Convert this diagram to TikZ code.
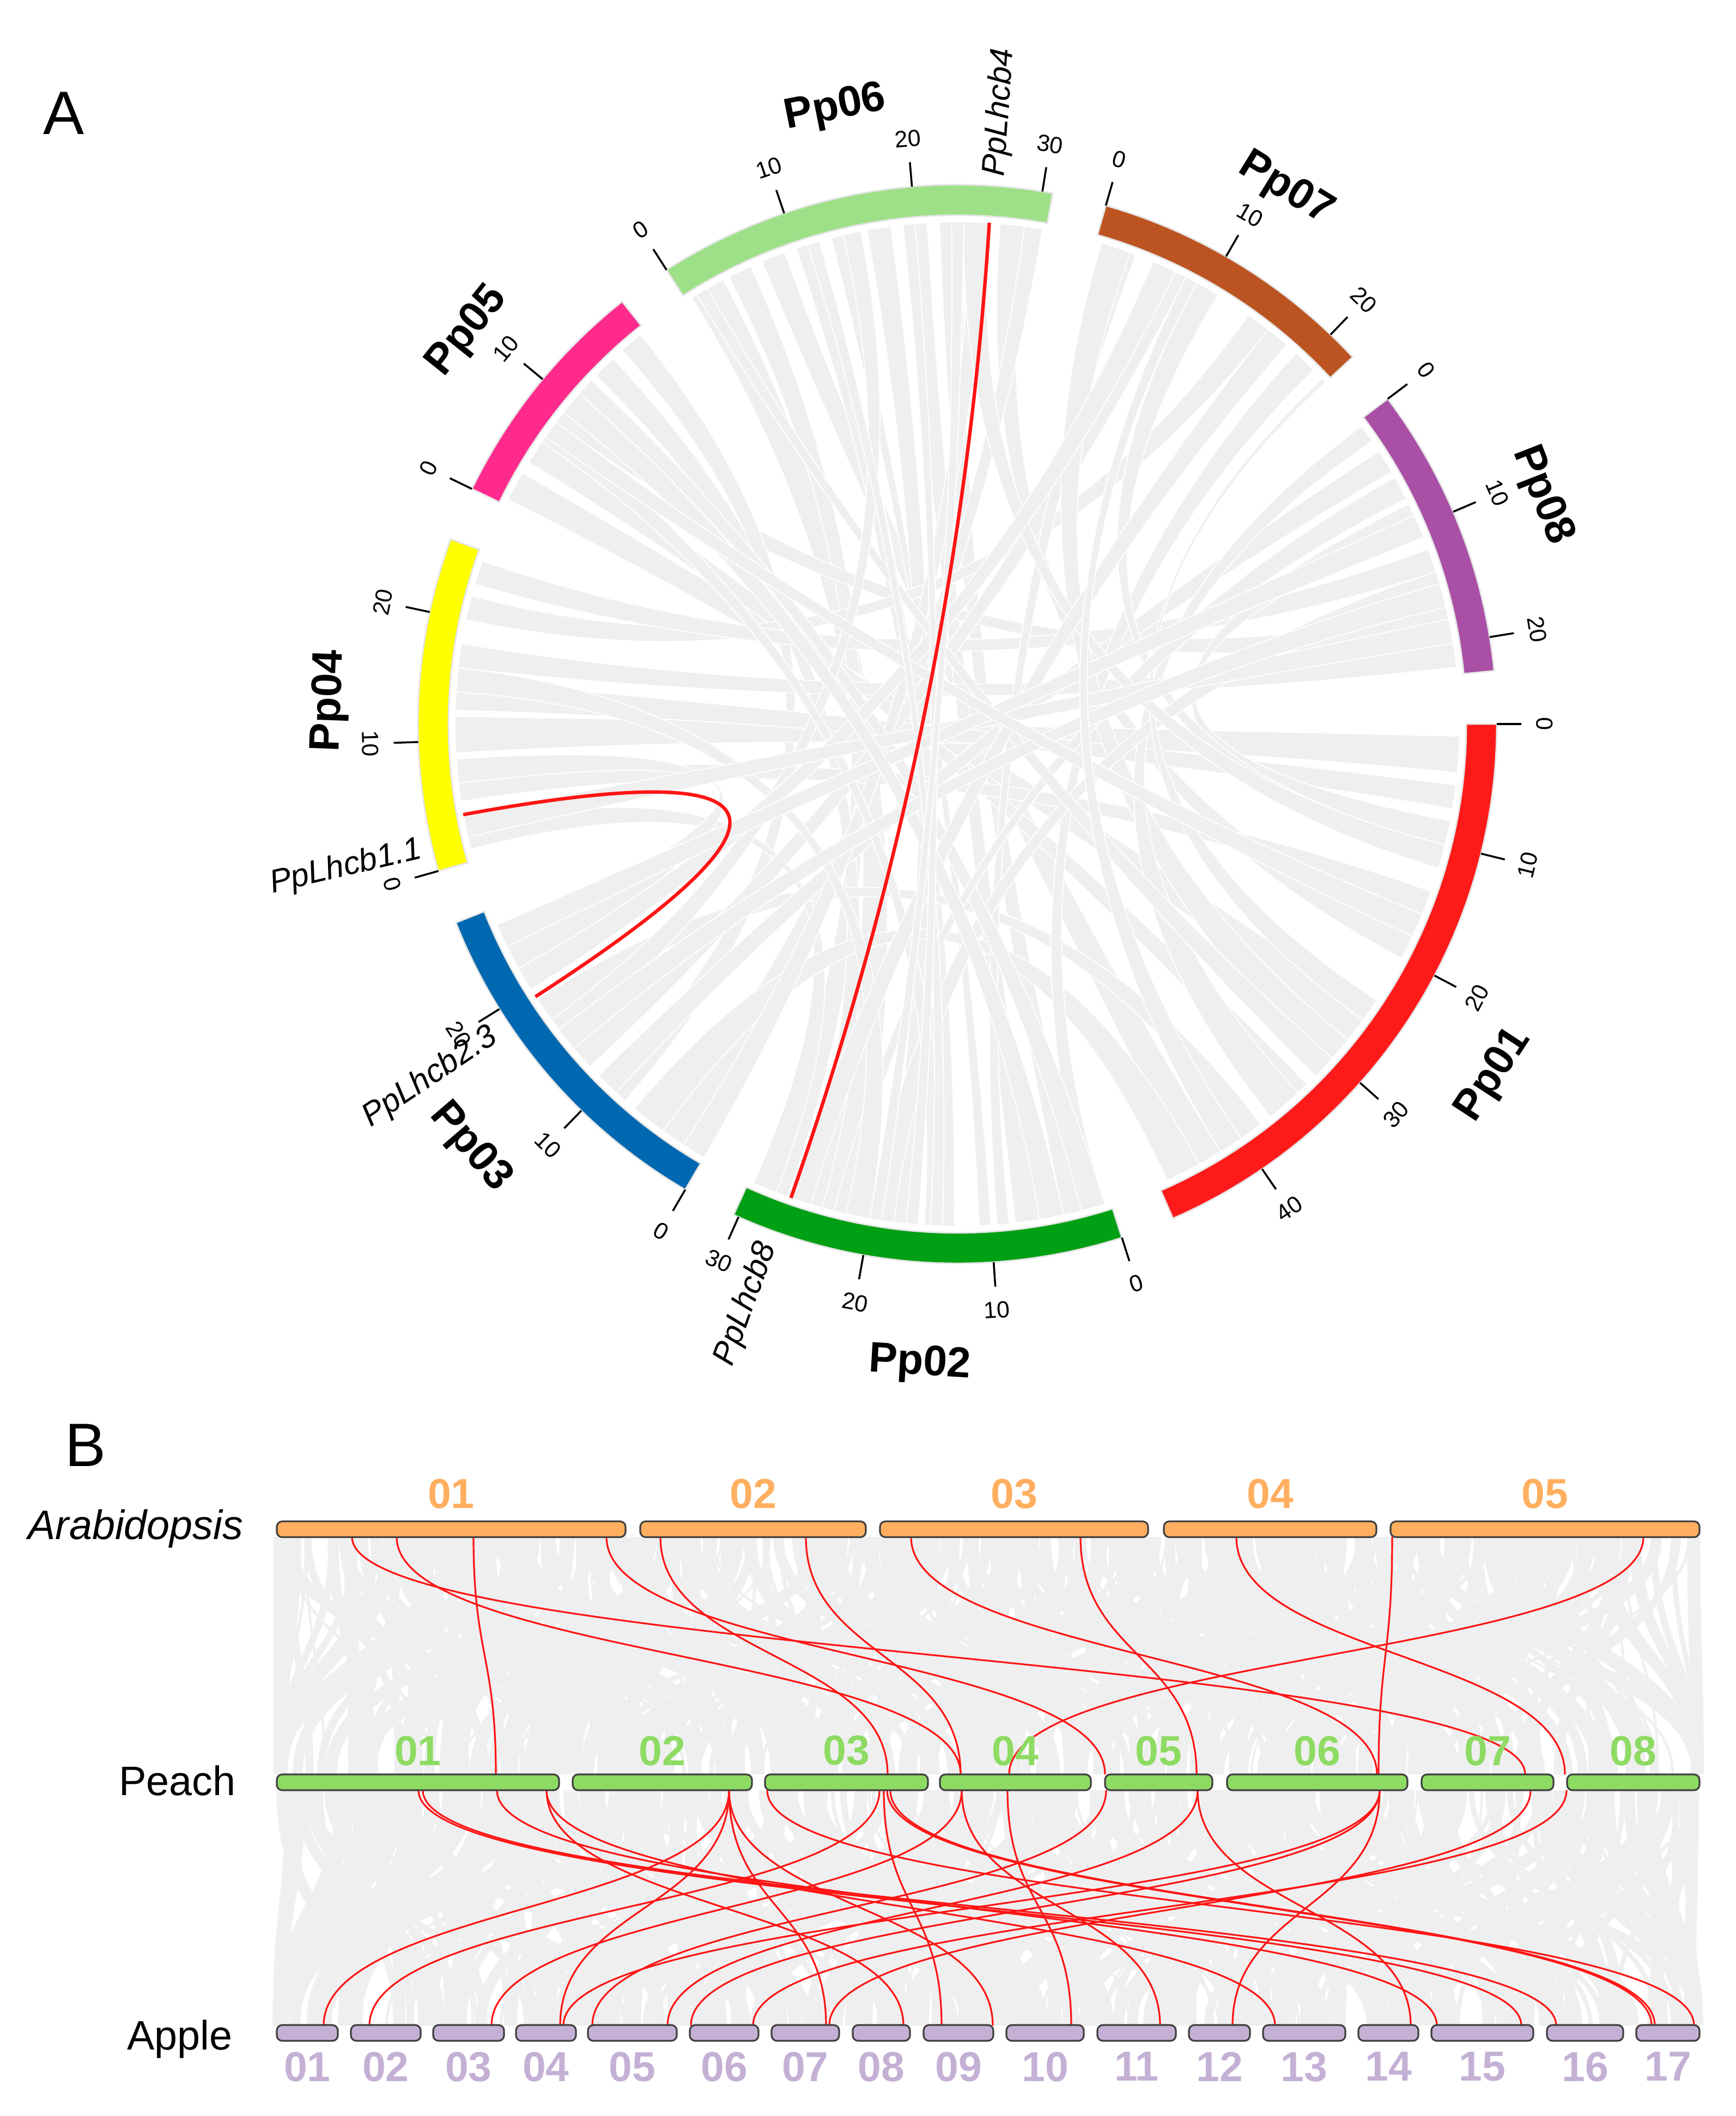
\documentclass[tikz,border=0pt]{standalone}
\usepackage{fontspec}
\setmainfont{Liberation Sans}
\usetikzlibrary{positioning}

\definecolor{ppone}{HTML}{FF1A1A}
\definecolor{pptwo}{HTML}{00A014}
\definecolor{ppthree}{HTML}{0068B0}
\definecolor{ppfour}{HTML}{FFFF00}
\definecolor{ppfive}{HTML}{FF2A8C}
\definecolor{ppsix}{HTML}{9EE088}
\definecolor{ppseven}{HTML}{BC5421}
\definecolor{ppeight}{HTML}{A94FA6}
\definecolor{ribbongray}{HTML}{EFEFEF}
\definecolor{linkred}{HTML}{FF1414}
\definecolor{athcol}{HTML}{FFAF5F}
\definecolor{prucol}{HTML}{8EDB63}
\definecolor{malcol}{HTML}{C5B0D5}

\tikzset{
  chrlab/.style={font=\fontsize{22.3}{26}\selectfont\bfseries, inner sep=0pt},
  ticklab/.style={font=\fontsize{12.2}{14}\selectfont, inner sep=0pt},
  genelab/.style={font=\fontsize{16.9}{20}\selectfont\itshape, inner sep=0pt},
  panellab/.style={font=\fontsize{32}{38}\selectfont, inner sep=0pt},
  rowlab/.style={font=\fontsize{21.5}{26}\selectfont, inner sep=0pt},
  numlab/.style={font=\fontsize{21.9}{26}\selectfont\bfseries, inner sep=0pt},
  chrbox/.style={draw=black!75, line width=0.9pt, rounded corners=0.1cm, minimum height=0.29cm, inner sep=0pt},
  synred/.style={draw=linkred, line width=0.9pt},
  circred/.style={draw=linkred, line width=1.8pt},
}

% chromosome bar: start angle, end angle, colour
\newcommand{\chrbar}[3]{%
  \filldraw[fill=#3, draw=black!10, line width=0.8pt] (#1:9.34) arc[start angle=#1, end angle=#2, radius=9.34]
    -- (#2:9.90) arc[start angle=#2, end angle=#1, radius=9.90] -- cycle;}
% ticks every 10 Mb
\newcommand{\chrticks}[2]{%
  \foreach \m in {#2} {
    \pgfmathsetmacro{\tang}{#1-1.39*\m}
    \pgfmathsetmacro{\trot}{sin(\tang)>0 ? \tang-90 : \tang+90}
    \draw[line width=1pt] (\tang:9.90) -- (\tang:10.35);
    \node[ticklab, rotate=\trot] at (\tang:10.78) {\m};
  }}
% gray ribbon between two blocks (angles)
\newcommand{\ribbon}[4]{%
  \filldraw[fill=ribbongray, draw=white, line width=0.5pt] (#1:9.22) arc[start angle=#1, end angle=#2, radius=9.22]
    .. controls (#2:3.07) and (#3:3.07) .. (#3:9.22) arc[start angle=#3, end angle=#4, radius=9.22]
    .. controls (#4:3.07) and (#1:3.07) .. cycle;}
% same, given chromosome start angles and Mb
\newcommand{\rib}[6]{%
  \pgfmathsetmacro{\ribA}{#1-1.39*#2}\pgfmathsetmacro{\ribB}{#1-1.39*#3}%
  \pgfmathsetmacro{\ribC}{#4-1.39*#5}\pgfmathsetmacro{\ribD}{#4-1.39*#6}%
  \ribbon{\ribA}{\ribB}{\ribC}{\ribD}}

\def\sPa{0}
\def\sPb{-72.24}
\def\sPc{-120.30}
\def\sPd{-164.19}
\def\sPe{-205.85}
\def\sPf{-237.37}
\def\sPg{-285.98}
\def\sPh{-322.92}

\begin{document}
\begin{tikzpicture}
    \useasboundingbox (0,0) rectangle (31.86,-38.84);

    \node[panellab] (panA) at (1.17,-2.08) {A};
    \node[panellab] (panB) at (1.57,-26.53) {B};

    % circos plot
    \begin{scope}[shift={(17.57,-13.29)}]
    \rib{\sPf}{0.5}{3.5}{\sPb}{21}{25}
    \rib{\sPf}{4}{6}{\sPb}{27}{29.5}
    \rib{\sPf}{7}{9}{\sPa}{42}{45}
    \rib{\sPf}{10}{12}{\sPb}{13}{15}
    \rib{\sPf}{13}{14}{\sPb}{10}{11}
    \rib{\sPf}{16}{18}{\sPb}{16}{18.5}
    \rib{\sPf}{19}{21}{\sPb}{6}{8}
    \rib{\sPf}{22}{24}{\sPb}{2}{4}
    \rib{\sPf}{27}{29}{\sPa}{18}{20}
    \rib{\sPf}{29}{30.5}{\sPc}{2}{4}
    \rib{\sPe}{0.5}{3}{\sPa}{25}{28}
    \rib{\sPe}{4}{6}{\sPa}{33}{35}
    \rib{\sPe}{8}{10}{\sPh}{17}{19}
    \rib{\sPe}{13}{15}{\sPb}{24}{26}
    \rib{\sPe}{16}{18}{\sPc}{8}{10}
    \rib{\sPd}{9}{12}{\sPa}{1}{4}
    \rib{\sPd}{12.5}{15}{\sPa}{5}{7}
    \rib{\sPd}{16}{18}{\sPh}{20}{22}
    \rib{\sPd}{20}{22}{\sPg}{14}{16}
    \rib{\sPd}{23}{25}{\sPh}{12}{14}
    \rib{\sPd}{5}{7}{\sPa}{14}{16}
    \rib{\sPd}{1}{3}{\sPb}{28}{30}
    \rib{\sPc}{22}{25}{\sPd}{6.5}{8.5}
    \rib{\sPc}{17}{19}{\sPa}{38}{40}
    \rib{\sPc}{12}{14}{\sPg}{6}{8}
    \rib{\sPc}{4}{7}{\sPa}{44}{47}
    \rib{\sPc}{9}{11}{\sPh}{3}{5}
    \rib{\sPb}{0.5}{2}{\sPg}{19}{21}
    \rib{\sPb}{8.5}{9.5}{\sPg}{2}{3.5}
    \rib{\sPa}{8}{11}{\sPh}{8}{10}
    \rib{\sPa}{10}{12}{\sPg}{9}{11}
    \rib{\sPa}{28}{31}{\sPg}{0.5}{3}
    \rib{\sPa}{34}{37}{\sPh}{0.5}{2}
    \rib{\sPh}{14}{16}{\sPb}{18}{20}
    \rib{\sPg}{22}{22.4}{\sPa}{24}{26}
    \rib{\sPc}{0}{2}{\sPf}{24.5}{26}
    \rib{\sPe}{11}{12.5}{\sPb}{0.5}{2.5}
    \rib{\sPb}{22}{23}{\sPh}{5.5}{7.5}
    \rib{\sPf}{1}{2}{\sPa}{30}{32}
    \rib{\sPf}{24}{26}{\sPa}{10}{12}
    \rib{\sPf}{14}{15.5}{\sPc}{15}{17}
    \rib{\sPe}{6}{7.5}{\sPb}{14}{15.5}
    \rib{\sPd}{14}{16}{\sPb}{20}{22}
    \rib{\sPg}{5}{7}{\sPc}{20}{22}
    \rib{\sPg}{16}{18}{\sPb}{25}{27}
    \rib{\sPh}{18}{20}{\sPd}{2}{4}
    \rib{\sPh}{9}{11}{\sPc}{24}{26}
    \rib{\sPb}{4}{6}{\sPe}{9}{11}
    \rib{\sPc}{14}{16}{\sPh}{15}{17}
    \rib{\sPa}{16}{18}{\sPe}{6.5}{8}
    \rib{\sPa}{40}{42}{\sPg}{8}{9}
    \rib{\sPb}{14}{15}{\sPf}{11}{12}
    \rib{\sPb}{16}{17}{\sPf}{19}{20}
    \rib{\sPb}{19}{20}{\sPf}{23}{24}

    % red links
    \coordinate (lhcbfour) at (86.35:9.22);
    \coordinate (lhcbeight) at (-109.35:9.22);
    \coordinate (lhcboneone) at (-169.61:9.22);
    \coordinate (lhcbtwothree) at (-147.13:9.22);
    \draw[circred] (lhcbfour) .. controls (86.35:3.07) and (-109.35:3.07) .. (lhcbeight);
    \draw[circred] (lhcboneone) .. controls (-169.61:3.07) and (-147.13:3.07) .. (lhcbtwothree);

    % chromosomes
    \chrbar{0}{-66.44}{ppone}
    \chrbar{-72.24}{-114.50}{pptwo}
    \chrbar{-120.30}{-158.39}{ppthree}
    \chrbar{-164.19}{-200.05}{ppfour}
    \chrbar{-205.85}{-231.57}{ppfive}
    \chrbar{-237.37}{-280.18}{ppsix}
    \chrbar{-285.98}{-317.12}{ppseven}
    \chrbar{-322.92}{-354.33}{ppeight}

    \chrticks{\sPa}{0,10,20,30,40}
    \chrticks{\sPb}{0,10,20,30}
    \chrticks{\sPc}{0,10,20}
    \chrticks{\sPd}{0,10,20}
    \chrticks{\sPe}{0,10}
    \chrticks{\sPf}{0,10,20,30}
    \chrticks{\sPg}{0,10,20}
    \chrticks{\sPh}{0,10,20}

    \node[chrlab, rotate=56.78] (lpp01) at (-33.22:11.77) {Pp01};
    \node[chrlab, rotate=-3.37] (lpp02) at (-93.37:11.77) {Pp02};
    \node[chrlab, rotate=-49.35] (lpp03) at (-139.0:11.85) {Pp03};
    \node[chrlab, rotate=87.88] (lpp04) at (-182.12:11.52) {Pp04};
    \node[chrlab, rotate=51.29] (lpp05) at (-218.71:11.52) {Pp05};
    \node[chrlab, rotate=11.22] (lpp06) at (-258.78:11.52) {Pp06};
    \node[chrlab, rotate=-31.55] (lpp07) at (-301.55:11.52) {Pp07};
    \node[chrlab, rotate=-68.63] (lpp08) at (-338.63:11.52) {Pp08};

    \node[genelab, anchor=west, rotate=86.0] (glhcbfour) at (86.0:10.07) {PpLhcb4};
    \node[genelab, anchor=east, rotate=70.0] (glhcbeight) at (-110.0:10.15) {PpLhcb8};
    \node[genelab, anchor=east, rotate=13.2] (glhcboneone) at (-166.8:10.10) {PpLhcb1.1};
    \node[genelab, anchor=east, rotate=34.0] (glhcbtwothree) at (-146.2:10.22) {PpLhcb2.3};
    \end{scope}

    % synteny background
    \pgfmathsetseed{7}
    \foreach \k in {1,...,420} {
      \pgfmathsetmacro{\gxa}{5.12+rnd*26.0}
      \pgfmathsetmacro{\gxb}{min(31.15,max(5.12,\gxa+(rnd-0.5)*12))}
      \pgfmathsetmacro{\gw}{1+rnd*6}
      \draw[ribbongray, line width=\gw pt] (\gxa,-28.21) .. controls +(0,-2.18) and +(0,2.18) .. (\gxb,-32.57);
    }
    \foreach \k in {1,...,420} {
      \pgfmathsetmacro{\gxa}{5.12+rnd*26.0}
      \pgfmathsetmacro{\gxb}{min(31.15,max(5.12,\gxa+(rnd-0.5)*12))}
      \pgfmathsetmacro{\gw}{1+rnd*6}
      \draw[ribbongray, line width=\gw pt] (\gxa,-32.86) .. controls +(0,-2.16) and +(0,2.16) .. (\gxb,-37.18);
    }

    % Arabidopsis - Peach
    \foreach \xa/\xb [count=\i] in {6.46/27.99, 7.28/17.63, 8.69/9.10, 11.13/20.28, 12.12/16.29,
        14.79/17.63, 16.72/25.27, 19.83/21.96, 22.69/28.72, 25.55/25.30, 30.16/18.52} {
      \coordinate (ua\i) at (\xa,-28.21);
      \coordinate (va\i) at (\xb,-32.57);
      \draw[synred] (ua\i) .. controls +(0,-2.18) and +(0,2.18) .. (va\i);
    }
    % Peach - Apple
    \foreach \xa/\xb [count=\i] in {7.68/27.92, 7.76/28.56, 9.12/26.37, 10.03/23.40, 10.03/16.58,
        13.38/5.94, 13.38/10.28, 13.38/15.16, 13.38/18.22, 14.08/31.09, 16.14/6.78, 16.22/17.28,
        16.28/30.31, 16.34/30.37, 17.65/9.02, 17.65/21.29, 18.49/19.66, 20.30/10.87, 21.98/12.25,
        21.98/25.89, 25.32/10.34, 25.32/12.68, 25.32/22.62, 28.09/15.22, 28.75/13.82} {
      \coordinate (ub\i) at (\xa,-32.86);
      \coordinate (vb\i) at (\xb,-37.18);
      \draw[synred] (ub\i) .. controls +(0,-2.16) and +(0,2.16) .. (vb\i);
    }

    % rows
    \node[rowlab, anchor=base east] (athname) at (4.47,-28.25) {\itshape Arabidopsis};
    \node[rowlab, anchor=base east] (pruname) at (4.33,-32.95) {Peach};
    \node[rowlab, anchor=base east] (malname) at (4.27,-37.62) {Apple};

    \foreach \x/\w [count=\i] in {8.28/6.40, 13.82/4.14, 18.61/4.92, 23.31/3.90, 28.355/5.67} {
      \node[chrbox, fill=athcol, minimum width=\w cm] (ath\i) at (\x,-28.07) {};
      \node[numlab, text=athcol, above=0.21cm of ath\i] {0\i};
    }
    \foreach \x/\w [count=\i] in {7.67/5.18, 12.155/3.29, 15.535/2.99, 18.635/2.77, 21.265/1.97,
        24.175/3.31, 27.30/2.42, 29.975/2.43} {
      \node[chrbox, fill=prucol, minimum width=\w cm] (pru\i) at (\x,-32.715) {};
      \node[numlab, text=prucol, above=0.14cm of pru\i] {0\i};
    }
    \foreach \x/\w [count=\i] in {5.64/1.12, 7.08/1.28, 8.60/1.30, 10.02/1.10, 11.605/1.63,
        13.29/1.26, 14.78/1.24, 16.175/1.05, 17.59/1.28, 19.18/1.42, 20.86/1.44, 22.38/1.12,
        23.935/1.51, 25.48/1.10, 27.205/1.87, 29.09/1.40, 30.61/1.16} {
      \node[chrbox, fill=malcol, minimum width=\w cm] (mal\i) at (\x,-37.315) {};
      \node[numlab, text=malcol, below=0.18cm of mal\i] {\ifnum\i<10 0\fi\i};
    }
\end{tikzpicture}
\end{document}
